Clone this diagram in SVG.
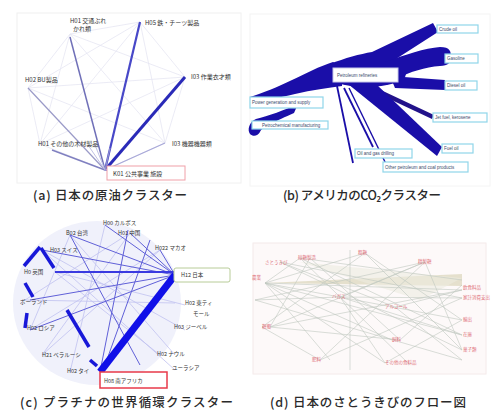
<svg xmlns="http://www.w3.org/2000/svg" width="495" height="419" viewBox="0 0 495 419">
<style>
.cap{font-family:"Noto Sans CJK JP","Noto Sans",sans-serif;font-size:12.5px;fill:#2a2a2a;font-weight:500}
.la{font-family:"Noto Sans CJK JP","Noto Sans",sans-serif;font-size:6px;fill:#333}
.lc{font-family:"Noto Sans CJK JP","Noto Sans",sans-serif;font-size:5.5px;fill:#333}
.lb{font-family:"Liberation Sans",sans-serif;font-size:4.5px;fill:#3a4a6a}
.ld{font-family:"Noto Sans CJK JP","Noto Sans",sans-serif;font-size:4.5px;fill:#e0707a}
.bx{fill:#fff;stroke:#8fd6ea;stroke-width:1.2}
.faint{stroke:#e6e6f2;stroke-width:0.8;fill:none}
.gr{stroke:#bfc8bf;stroke-width:0.6;fill:none}
</style>
<rect width="495" height="419" fill="#fff"/>

<!-- Panel a -->
<g id="panel-a">
<rect x="17" y="13" width="224" height="170" fill="#fff" stroke="#f0f0f0"/>
<g id="a-connectors">
<polygon class="faint" points="70,34 140,22 185,77 165,143 105,170 40,144 28,88"/>
<g class="faint">
<line x1="70" y1="34" x2="185" y2="77"/><line x1="70" y1="34" x2="165" y2="143"/><line x1="70" y1="34" x2="40" y2="144"/>
<line x1="140" y1="22" x2="28" y2="88"/><line x1="140" y1="22" x2="40" y2="144"/><line x1="140" y1="22" x2="165" y2="143"/>
<line x1="185" y1="77" x2="28" y2="88"/><line x1="185" y1="77" x2="40" y2="144"/><line x1="28" y1="88" x2="165" y2="143"/>
</g>
<line x1="105" y1="170" x2="140" y2="22" stroke="#4848c8" stroke-width="2.2"/>
<line x1="105" y1="170" x2="185" y2="77" stroke="#2a2ab8" stroke-width="3"/>
<line x1="105" y1="170" x2="70" y2="37" stroke="#7070b8" stroke-width="1.5"/>
<line x1="105" y1="170" x2="28" y2="88" stroke="#9a9ac8" stroke-width="1.2"/>
<line x1="105" y1="170" x2="52" y2="150" stroke="#8080c0" stroke-width="1.5"/>
<line x1="105" y1="170" x2="165" y2="143" stroke="#a8a8d8" stroke-width="1.2"/>
<line x1="105" y1="170" x2="88" y2="145" stroke="#c0c0e4" stroke-width="1"/>
<line x1="105" y1="170" x2="95" y2="145" stroke="#c0c0e4" stroke-width="1"/>
<line x1="105" y1="170" x2="110" y2="148" stroke="#9090d0" stroke-width="1.2"/>
</g>
<g id="a-n1"><text class="la" x="70" y="23">H01 交通ぶれ</text><text class="la" x="73" y="31">かれ類</text></g>
<g id="a-n2"><text class="la" x="145" y="25">H05 鉄・チーツ製品</text></g>
<g id="a-n3"><text class="la" x="191" y="79">I03 作業衣才類</text></g>
<g id="a-n4"><text class="la" x="25" y="82">H02 BU製品</text></g>
<g id="a-n5"><text class="la" x="38" y="146">H01 その他の木材製品</text></g>
<g id="a-n6"><text class="la" x="172" y="146">I03 機器機器類</text></g>
<g id="a-n7"><rect x="107" y="166" width="78" height="14" fill="#fff" stroke="#f0a0a8" stroke-width="1"/><text class="la" x="113" y="175.5">K01 公共事業 施設</text></g>
<text class="cap" x="33" y="200" textLength="154">(a) 日本の原油クラスター</text>
</g>

<!-- Panel b -->
<g id="panel-b">
<rect x="250" y="14" width="240" height="172" fill="#fff" stroke="#f4f4f4"/>
<g id="b-connectors" fill="#1a0ea8">
<ellipse cx="366" cy="74" rx="40" ry="13"/>
<path d="M330,64 C345,58 360,54 372,52 L433,23 L438,32 L385,66 L340,74 Z"/>
<path d="M385,62 C405,55 425,48 440,47 C450,47 452,52 450,57 C452,62 448,66 440,66 C425,67 410,72 398,78 L385,76 Z"/>
<path d="M390,76 L445,80 L445,90 L395,88 Z"/>
<path d="M368,84 L434,115 L432,119 L366,88 Z" fill="#22128a"/>
<path d="M348,84 L376,84 L442,147 L437,156 Z"/>
<path d="M337,86 L353,163" stroke="#1a0ea8" stroke-width="1.8" fill="none"/>
<path d="M344,88 L373,147" stroke="#1a0ea8" stroke-width="1.8" fill="none"/>
<path d="M349,88 L386,164" stroke="#1a0ea8" stroke-width="1.4" fill="none"/>
<path d="M333,62 C320,66 305,74 292,80 C278,87 262,93 250,97 L250,103 C262,101 278,98 295,94 C312,90 328,88 342,86 L342,66 Z"/>
<path d="M298,104 C285,110 268,116 256,119 C249,122 247,130 250,134 C253,137 258,136 260,132 C262,127 276,121 294,113 Z"/>
</g>
<g id="b-n0"><rect x="333" y="68" width="65" height="14" fill="#fff" stroke="#c8c8e8" stroke-width="1"/><text class="lb" x="337" y="77">Petroleum refineries</text></g>
<g id="b-n1"><rect class="bx" x="437" y="25" width="41" height="8"/><text class="lb" x="439" y="31">Crude oil</text></g>
<g id="b-n2"><rect class="bx" x="445" y="54" width="33" height="9"/><text class="lb" x="447" y="60">Gasoline</text></g>
<g id="b-n3"><rect class="bx" x="445" y="81" width="32" height="9"/><text class="lb" x="447" y="87">Diesel oil</text></g>
<g id="b-n4"><rect class="bx" x="433" y="113" width="54" height="9"/><text class="lb" x="435" y="119">Jet fuel, kerosene</text></g>
<g id="b-n5"><rect class="bx" x="442" y="144" width="31" height="9"/><text class="lb" x="444" y="150">Fuel oil</text></g>
<g id="b-n6"><rect class="bx" x="355" y="149" width="57" height="9"/><text class="lb" x="357" y="155">Oil and gas drilling</text></g>
<g id="b-n7"><rect class="bx" x="383" y="162" width="85" height="10"/><text class="lb" x="385" y="169">Other petroleum and coal products</text></g>
<g id="b-n8"><rect class="bx" x="250" y="97" width="73" height="11"/><text class="lb" x="252" y="104">Power generation and supply</text></g>
<g id="b-n9"><rect class="bx" x="252" y="121" width="76" height="8"/><text class="lb" x="262" y="127">Petrochemical manufacturing</text></g>
<text class="cap" x="283" y="200" textLength="158">(b) アメリカのCO₂クラスター</text>
</g>

<!-- Panel c -->
<g id="panel-c">
<ellipse cx="97" cy="303" rx="84" ry="82" fill="#f0f1fb"/>
<g id="c-connectors" fill="none">
<g stroke="#c0c2f0" stroke-width="0.8">
<line x1="130" y1="233" x2="42" y2="355"/><line x1="70" y1="235" x2="175" y2="355"/><line x1="42" y1="250" x2="185" y2="330"/>
<line x1="25" y1="300" x2="175" y2="303"/><line x1="30" y1="330" x2="160" y2="250"/><line x1="105" y1="225" x2="70" y2="372"/>
<line x1="42" y1="250" x2="175" y2="370"/><line x1="55" y1="272" x2="160" y2="355"/><line x1="25" y1="300" x2="130" y2="233"/>
<line x1="55" y1="272" x2="185" y2="305"/><line x1="70" y1="235" x2="30" y2="330"/><line x1="160" y1="250" x2="42" y2="355"/>
</g>
<g stroke="#6060d8" stroke-width="1">
<line x1="130" y1="233" x2="175" y2="275"/><line x1="70" y1="235" x2="175" y2="275"/><line x1="42" y1="250" x2="175" y2="275"/>
<line x1="30" y1="300" x2="175" y2="275"/><line x1="160" y1="250" x2="175" y2="275"/><line x1="128" y1="230" x2="100" y2="372"/>
<line x1="70" y1="235" x2="140" y2="365"/><line x1="150" y1="240" x2="105" y2="365"/><line x1="30" y1="330" x2="175" y2="275"/>
<line x1="105" y1="225" x2="175" y2="275"/>
</g>
<line x1="55" y1="272" x2="175" y2="272" stroke="#3a3ae0" stroke-width="2"/>
<line x1="175" y1="275" x2="100" y2="372" stroke="#1010e8" stroke-width="7"/>
<g stroke="#1818d8" stroke-width="3.5">
<line x1="40" y1="247" x2="24" y2="266"/><line x1="41" y1="248" x2="54" y2="268"/>
<line x1="25" y1="283" x2="33" y2="297"/><line x1="67" y1="310" x2="89" y2="347"/>
<line x1="27" y1="313" x2="25" y2="328"/><line x1="90" y1="360" x2="97" y2="366"/>
</g>
</g>
<g id="c-n1"><text class="lc" x="103" y="225">H00 カルボス</text></g>
<g id="c-n2"><text class="lc" x="66" y="235">B02 台湾</text></g>
<g id="c-n3"><text class="lc" x="118" y="235">H01 中国</text></g>
<g id="c-n4"><text class="lc" x="50" y="252">H03 スイス</text></g>
<g id="c-n5"><text class="lc" x="155" y="250">H022 マカオ</text></g>
<g id="c-n6"><text class="lc" x="24" y="274">H0 英国</text></g>
<g id="c-n7"><rect x="174" y="268" width="56" height="14" rx="2" fill="#fff" stroke="#b8cc98" stroke-width="1"/><text class="lc" x="181" y="277">H12 日本</text></g>
<g id="c-n8"><text class="lc" x="20" y="304">ポーランド</text></g>
<g id="c-n9"><text class="lc" x="185" y="305">H02 東ティ</text><text class="lc" x="193" y="316">モール</text></g>
<g id="c-n10"><text class="lc" x="27" y="330">H02 ロシア</text></g>
<g id="c-n11"><text class="lc" x="174" y="329">H03 ジーベル</text></g>
<g id="c-n12"><text class="lc" x="42" y="357">H21 ベラルーシ</text></g>
<g id="c-n13"><text class="lc" x="157" y="356">H02 ナウル</text></g>
<g id="c-n14"><text class="lc" x="67" y="373">H02 タイ</text></g>
<g id="c-n15"><text class="lc" x="172" y="370">ユーラシア</text></g>
<g id="c-n16"><rect x="100" y="372" width="67" height="16" fill="#fff" stroke="#e83a4a" stroke-width="1.5"/><text class="lc" x="104" y="383">H08 南アフリカ</text></g>
<text class="cap" x="20" y="407" textLength="213">(c) プラチナの世界循環クラスター</text>
</g>

<!-- Panel d -->
<g id="panel-d">
<rect x="253" y="243" width="233" height="131" fill="#fdf9f9" stroke="#f4eaea"/>
<path d="M265,283 L462,274 L462,286 Z" fill="#e0dcc6" opacity="0.85"/>
<path d="M300,262 L462,278 L420,300 Z" fill="#ecebe0" opacity="0.6"/>
<g id="d-connectors" class="gr">
<line x1="265" y1="283" x2="462" y2="290"/><line x1="265" y1="283" x2="462" y2="320"/><line x1="265" y1="283" x2="462" y2="335"/>
<line x1="265" y1="283" x2="392" y2="340"/><line x1="265" y1="283" x2="330" y2="360"/><line x1="265" y1="283" x2="385" y2="363"/>
<line x1="280" y1="262" x2="462" y2="298"/><line x1="280" y1="262" x2="462" y2="350"/><line x1="300" y1="258" x2="410" y2="365"/>
<line x1="310" y1="258" x2="270" y2="327"/><line x1="365" y1="253" x2="262" y2="327"/><line x1="365" y1="253" x2="462" y2="320"/>
<line x1="425" y1="262" x2="270" y2="327"/><line x1="425" y1="262" x2="340" y2="297"/><line x1="425" y1="262" x2="320" y2="360"/>
<line x1="340" y1="297" x2="462" y2="298"/><line x1="340" y1="297" x2="462" y2="335"/><line x1="395" y1="307" x2="462" y2="290"/>
<line x1="395" y1="307" x2="462" y2="360"/><line x1="270" y1="327" x2="462" y2="290"/><line x1="270" y1="327" x2="400" y2="340"/>
<line x1="320" y1="360" x2="462" y2="298"/><line x1="400" y1="340" x2="462" y2="285"/><line x1="300" y1="258" x2="462" y2="280"/>
<line x1="365" y1="253" x2="462" y2="350"/><line x1="255" y1="300" x2="462" y2="360"/><line x1="255" y1="300" x2="425" y2="262"/>
<line x1="385" y1="363" x2="462" y2="320"/><line x1="350" y1="250" x2="350" y2="370"/>
<line x1="265" y1="283" x2="365" y2="253"/><line x1="265" y1="283" x2="300" y2="258"/><line x1="280" y1="262" x2="395" y2="307"/>
<line x1="310" y1="258" x2="400" y2="340"/><line x1="255" y1="300" x2="340" y2="297"/><line x1="262" y1="327" x2="320" y2="360"/>
<line x1="300" y1="258" x2="462" y2="335"/><line x1="425" y1="262" x2="462" y2="350"/><line x1="340" y1="297" x2="385" y2="363"/>
</g>
<g id="d-n1"><text class="ld" x="265" y="264">さとうきび</text></g>
<g id="d-n2"><text class="ld" x="252" y="279">農業</text></g>
<g id="d-n3"><text class="ld" x="298" y="259">砂糖製造</text></g>
<g id="d-n4"><text class="ld" x="358" y="254">粗糖</text></g>
<g id="d-n5"><text class="ld" x="418" y="263">精製糖</text></g>
<g id="d-n6"><text class="ld" x="463" y="289">飲食料品</text></g>
<g id="d-n7"><text class="ld" x="463" y="299">家計消費支出</text></g>
<g id="d-n8"><text class="ld" x="262" y="328">糖蜜</text></g>
<g id="d-n9"><text class="ld" x="332" y="298">バガス</text></g>
<g id="d-n10"><text class="ld" x="385" y="308">アルコール</text></g>
<g id="d-n11"><text class="ld" x="463" y="321">輸出</text></g>
<g id="d-n12"><text class="ld" x="463" y="336">在庫</text></g>
<g id="d-n13"><text class="ld" x="463" y="351">菓子類</text></g>
<g id="d-n14"><text class="ld" x="392" y="341">飼料</text></g>
<g id="d-n15"><text class="ld" x="312" y="361">肥料</text></g>
<g id="d-n16"><text class="ld" x="385" y="364">その他の食料品</text></g>
<text class="cap" x="270" y="407" textLength="196">(d) 日本のさとうきびのフロー図</text>
</g>
</svg>
